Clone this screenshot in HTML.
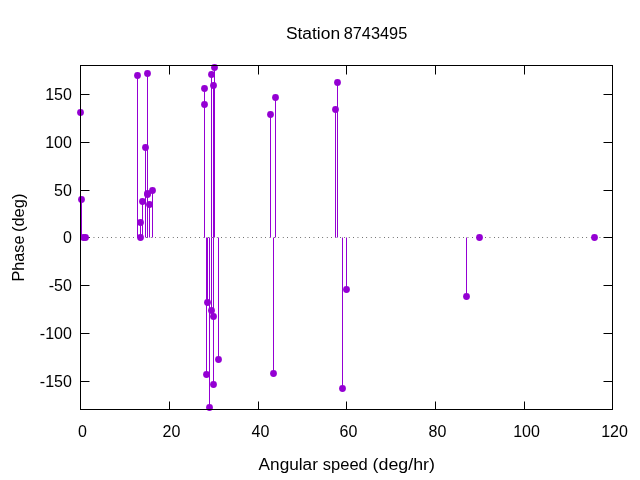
<!DOCTYPE html>
<html><head><meta charset="utf-8"><title>Station 8743495</title>
<style>
html,body{margin:0;padding:0;background:#fff;}
body{width:640px;height:480px;overflow:hidden;}
svg{display:block;will-change:transform;}
text{font-family:"Liberation Sans",sans-serif;font-size:16px;fill:#000;}
</style></head><body>
<svg width="640" height="480" viewBox="0 0 640 480">
<rect width="640" height="480" fill="#fff"/>
<line x1="80.5" y1="237.5" x2="612.5" y2="237.5" stroke="#000" stroke-width="1" stroke-dasharray="0.55 3.85"/>
<g stroke="#000" stroke-width="1" fill="none">
<line x1="169.5" y1="409.5" x2="169.5" y2="401.5"/><line x1="169.5" y1="65.5" x2="169.5" y2="74.5"/>
<line x1="258.5" y1="409.5" x2="258.5" y2="401.5"/><line x1="258.5" y1="65.5" x2="258.5" y2="74.5"/>
<line x1="346.5" y1="409.5" x2="346.5" y2="401.5"/><line x1="346.5" y1="65.5" x2="346.5" y2="74.5"/>
<line x1="435.5" y1="409.5" x2="435.5" y2="401.5"/><line x1="435.5" y1="65.5" x2="435.5" y2="74.5"/>
<line x1="524.5" y1="409.5" x2="524.5" y2="401.5"/><line x1="524.5" y1="65.5" x2="524.5" y2="74.5"/>
<line x1="80.5" y1="94.5" x2="89.5" y2="94.5"/><line x1="612.5" y1="94.5" x2="603.5" y2="94.5"/>
<line x1="80.5" y1="142.5" x2="89.5" y2="142.5"/><line x1="612.5" y1="142.5" x2="603.5" y2="142.5"/>
<line x1="80.5" y1="190.5" x2="89.5" y2="190.5"/><line x1="612.5" y1="190.5" x2="603.5" y2="190.5"/>
<line x1="80.5" y1="237.5" x2="89.5" y2="237.5"/><line x1="612.5" y1="237.5" x2="603.5" y2="237.5"/>
<line x1="80.5" y1="285.5" x2="89.5" y2="285.5"/><line x1="612.5" y1="285.5" x2="603.5" y2="285.5"/>
<line x1="80.5" y1="333.5" x2="89.5" y2="333.5"/><line x1="612.5" y1="333.5" x2="603.5" y2="333.5"/>
<line x1="80.5" y1="381.5" x2="89.5" y2="381.5"/><line x1="612.5" y1="381.5" x2="603.5" y2="381.5"/>
</g>
<g stroke="#9400d3" stroke-width="1" fill="none">
<line x1="80.5" y1="237.5" x2="80.5" y2="112.5"/>
<line x1="81.5" y1="237.5" x2="81.5" y2="199.5"/>
<line x1="137.5" y1="237.5" x2="137.5" y2="75.5"/>
<line x1="140.5" y1="237.5" x2="140.5" y2="222.5"/>
<line x1="142.5" y1="237.5" x2="142.5" y2="201.5"/>
<line x1="145.5" y1="237.5" x2="145.5" y2="147.5"/>
<line x1="147.5" y1="237.5" x2="147.5" y2="73.5"/>
<line x1="147.5" y1="237.5" x2="147.5" y2="193.5"/>
<line x1="147.5" y1="237.5" x2="147.5" y2="194.5"/>
<line x1="149.5" y1="237.5" x2="149.5" y2="204.5"/>
<line x1="152.5" y1="237.5" x2="152.5" y2="190.5"/>
<line x1="204.5" y1="237.5" x2="204.5" y2="88.5"/>
<line x1="204.5" y1="237.5" x2="204.5" y2="104.5"/>
<line x1="206.5" y1="237.5" x2="206.5" y2="374.5"/>
<line x1="207.5" y1="237.5" x2="207.5" y2="302.5"/>
<line x1="209.5" y1="237.5" x2="209.5" y2="407.5"/>
<line x1="211.5" y1="237.5" x2="211.5" y2="74.5"/>
<line x1="211.5" y1="237.5" x2="211.5" y2="310.5"/>
<line x1="213.5" y1="237.5" x2="213.5" y2="85.5"/>
<line x1="214.5" y1="237.5" x2="214.5" y2="67.5"/>
<line x1="213.5" y1="237.5" x2="213.5" y2="316.5"/>
<line x1="213.5" y1="237.5" x2="213.5" y2="384.5"/>
<line x1="218.5" y1="237.5" x2="218.5" y2="359.5"/>
<line x1="270.5" y1="237.5" x2="270.5" y2="114.5"/>
<line x1="273.5" y1="237.5" x2="273.5" y2="373.5"/>
<line x1="275.5" y1="237.5" x2="275.5" y2="97.5"/>
<line x1="335.5" y1="237.5" x2="335.5" y2="109.5"/>
<line x1="337.5" y1="237.5" x2="337.5" y2="82.5"/>
<line x1="342.5" y1="237.5" x2="342.5" y2="388.5"/>
<line x1="346.5" y1="237.5" x2="346.5" y2="289.5"/>
<line x1="466.5" y1="237.5" x2="466.5" y2="296.5"/>
</g>
<g fill="#9400d3">
<circle cx="80.5" cy="112.5" r="3.4"/>
<circle cx="81.5" cy="199.5" r="3.4"/>
<circle cx="83.5" cy="237.5" r="3.4"/>
<circle cx="85.5" cy="237.5" r="3.4"/>
<circle cx="137.5" cy="75.5" r="3.4"/>
<circle cx="140.5" cy="222.5" r="3.4"/>
<circle cx="140.5" cy="237.5" r="3.4"/>
<circle cx="142.5" cy="201.5" r="3.4"/>
<circle cx="145.5" cy="147.5" r="3.4"/>
<circle cx="147.5" cy="73.5" r="3.4"/>
<circle cx="147.5" cy="193.5" r="3.4"/>
<circle cx="147.5" cy="194.5" r="3.4"/>
<circle cx="149.5" cy="204.5" r="3.4"/>
<circle cx="152.5" cy="190.5" r="3.4"/>
<circle cx="204.5" cy="88.5" r="3.4"/>
<circle cx="204.5" cy="104.5" r="3.4"/>
<circle cx="206.5" cy="374.5" r="3.4"/>
<circle cx="207.5" cy="302.5" r="3.4"/>
<circle cx="209.5" cy="407.5" r="3.4"/>
<circle cx="211.5" cy="74.5" r="3.4"/>
<circle cx="211.5" cy="310.5" r="3.4"/>
<circle cx="213.5" cy="85.5" r="3.4"/>
<circle cx="214.5" cy="67.5" r="3.4"/>
<circle cx="213.5" cy="316.5" r="3.4"/>
<circle cx="213.5" cy="384.5" r="3.4"/>
<circle cx="218.5" cy="359.5" r="3.4"/>
<circle cx="270.5" cy="114.5" r="3.4"/>
<circle cx="273.5" cy="373.5" r="3.4"/>
<circle cx="275.5" cy="97.5" r="3.4"/>
<circle cx="335.5" cy="109.5" r="3.4"/>
<circle cx="337.5" cy="82.5" r="3.4"/>
<circle cx="342.5" cy="388.5" r="3.4"/>
<circle cx="346.5" cy="289.5" r="3.4"/>
<circle cx="466.5" cy="296.5" r="3.4"/>
<circle cx="479.5" cy="237.5" r="3.4"/>
<circle cx="594.5" cy="237.5" r="3.4"/>
</g>
<rect x="80.5" y="65.5" width="532.0" height="344.0" stroke="#000" stroke-width="1" fill="none"/>
<text x="71.9" y="99.8" text-anchor="end">150</text>
<text x="71.9" y="147.8" text-anchor="end">100</text>
<text x="71.9" y="195.8" text-anchor="end">50</text>
<text x="71.9" y="242.8" text-anchor="end">0</text>
<text x="71.9" y="290.8" text-anchor="end">-50</text>
<text x="71.9" y="338.8" text-anchor="end">-100</text>
<text x="71.9" y="386.8" text-anchor="end">-150</text>
<text x="82.5" y="437" text-anchor="middle">0</text>
<text x="171.5" y="437" text-anchor="middle">20</text>
<text x="260.5" y="437" text-anchor="middle">40</text>
<text x="348.5" y="437" text-anchor="middle">60</text>
<text x="437.5" y="437" text-anchor="middle">80</text>
<text x="526.5" y="437" text-anchor="middle">100</text>
<text x="614.5" y="437" text-anchor="middle">120</text>
<text x="285.9" y="39" textLength="54.2" lengthAdjust="spacingAndGlyphs">Station</text>
<text x="343.7" y="39" textLength="63.6" lengthAdjust="spacingAndGlyphs">8743495</text>
<text x="258.6" y="470" textLength="59.3" lengthAdjust="spacingAndGlyphs">Angular</text>
<text x="322.8" y="470" textLength="45" lengthAdjust="spacingAndGlyphs">speed</text>
<text x="372.6" y="470" textLength="62.4" lengthAdjust="spacingAndGlyphs">(deg/hr)</text>
<text transform="translate(24,281.5) rotate(-90)" textLength="45.9" lengthAdjust="spacingAndGlyphs">Phase</text>
<text transform="translate(24,232.1) rotate(-90)" textLength="38.5" lengthAdjust="spacingAndGlyphs">(deg)</text>
</svg>
</body></html>
